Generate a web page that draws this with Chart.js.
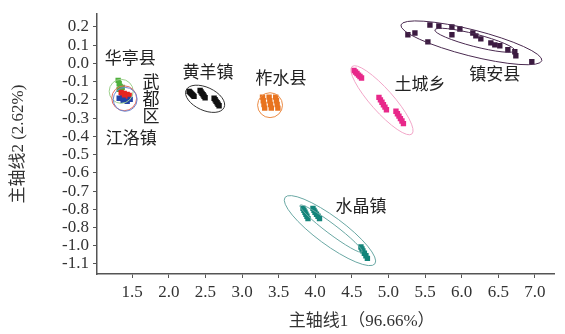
<!DOCTYPE html>
<html>
<head>
<meta charset="utf-8">
<script src="https://cdn.jsdelivr.net/npm/chart.js@4.4.0/dist/chart.umd.min.js"></script>
<style>
  body { margin: 0; background: #fff; }
  #wrap { width: 565px; height: 334px; }
</style>
</head>
<body>
<div id="wrap"><canvas id="pcaChart" width="565" height="334"></canvas></div>
<script>
// PCA scores per sampling site (主轴线1 / 主轴线2)
const huatingX = [1.309, 1.323, 1.336, 1.364, 1.323];
const huatingY = [-0.093, -0.110, -0.126, -0.132, -0.142];
const wuduX = [1.350, 1.391, 1.432, 1.364, 1.418, 1.459];
const wuduY = [-0.159, -0.164, -0.170, -0.180, -0.186, -0.175];
const jiangluoX = [1.377, 1.432, 1.473, 1.323];
const jiangluoY = [-0.202, -0.208, -0.197, -0.191];
const huangyangX = [2.278, 2.292, 2.305, 2.319, 2.332, 2.345, 2.428, 2.441, 2.455, 2.469, 2.482, 2.496, 2.619, 2.633, 2.646, 2.660, 2.673, 2.687];
const huangyangY = [-0.153, -0.159, -0.164, -0.170, -0.175, -0.181, -0.148, -0.156, -0.164, -0.172, -0.180, -0.188, -0.191, -0.199, -0.208, -0.216, -0.224, -0.232];
const zhashuiX = [3.280, 3.290, 3.300, 3.310, 3.370, 3.380, 3.390, 3.400, 3.460, 3.470, 3.480, 3.490];
const zhashuiY = [-0.185, -0.205, -0.225, -0.245, -0.185, -0.205, -0.225, -0.245, -0.185, -0.205, -0.225, -0.245];
const tuchengX = [4.529, 4.550, 4.570, 4.591, 4.611, 4.632, 4.870, 4.890, 4.911, 4.931, 4.952, 4.972, 5.102, 5.122, 5.143, 5.163, 5.184, 5.204];
const tuchengY = [-0.039, -0.047, -0.055, -0.064, -0.072, -0.080, -0.186, -0.200, -0.213, -0.227, -0.240, -0.254, -0.262, -0.276, -0.289, -0.303, -0.316, -0.330];
const zhenanX = [5.265, 5.361, 5.538, 5.566, 5.688, 5.866, 5.866, 5.975, 6.152, 6.193, 6.261, 6.398, 6.452, 6.520, 6.630, 6.725, 6.739, 6.957];
const zhenanY = [0.157, 0.167, 0.118, 0.211, 0.205, 0.157, 0.200, 0.189, 0.167, 0.151, 0.135, 0.113, 0.102, 0.097, 0.075, 0.064, 0.042, 0.010];
const shuijingX = [3.833, 3.846, 3.860, 3.873, 3.887, 3.901, 3.969, 3.983, 3.997, 4.017, 4.038, 4.058, 4.624, 4.638, 4.651, 4.671, 4.692, 4.712];
const shuijingY = [-0.795, -0.806, -0.816, -0.827, -0.838, -0.851, -0.795, -0.806, -0.816, -0.827, -0.838, -0.851, -1.007, -1.018, -1.028, -1.041, -1.055, -1.069];

// confidence ellipses: centre, end of the half major axis, minor/major ratio
const ellipseGroup = ["huating", "wudu", "jiangluo", "huangyang", "zhashui", "tucheng", "zhenan", "zhenan", "shuijing", "shuijing"];
const ellipseCX = [1.350, 1.391, 1.405, 2.496, 3.383, 4.911, 6.132, 6.179, 4.201, 4.215];
const ellipseCY = [-0.153, -0.191, -0.197, -0.194, -0.229, -0.202, 0.113, 0.127, -0.917, -0.906];
const ellipseTipX = [1.514, 1.561, 1.568, 2.755, 3.553, 5.320, 7.094, 6.725, 4.815, 4.638];
const ellipseTipY = [-0.153, -0.191, -0.197, -0.242, -0.229, -0.387, 0.015, 0.070, -1.099, -1.034];
const ellipseRatio = [1, 1, 1, 0.55, 1, 0.25, 0.18, 0.15, 0.25, 0.13];

// site names placed next to their clusters
const siteNames = ["华亭县", "武都区", "江洛镇", "黄羊镇", "柞水县", "土城乡", "镇安县", "水晶镇"];
const siteLabelX = [1.473, 1.759, 1.486, 2.537, 3.533, 5.429, 6.452, 4.624];
const siteLabelY = [0.032, -0.191, -0.409, -0.045, -0.077, -0.110, -0.055, -0.778];
const siteVertical = [false, true, false, false, false, false, false, false];

const xTicks = [1.5, 2.0, 2.5, 3.0, 3.5, 4.0, 4.5, 5.0, 5.5, 6.0, 6.5, 7.0];
const xTickLabels = ["1.5", "2.0", "2.5", "3.0", "3.5", "4.0", "4.5", "5.0", "5.5", "6.0", "6.5", "7.0"];
const yTicks = [0.2, 0.1, 0.0, -0.1, -0.2, -0.3, -0.4, -0.5, -0.6, -0.7, -0.8, -0.9, -1.0, -1.1];
const yTickLabels = ["0.2", "0.1", "0.0", "-0.1", "-0.2", "-0.3", "-0.4", "-0.5", "-0.6", "-0.7", "-0.8", "-0.8", "-1.0", "-1.1"];

const colors = {
  huating: { point: "#4fb03c", ring: "#9fd08f" },
  wudu: { point: "#e62520", ring: "#e46a5c" },
  jiangluo: { point: "#2443a6", ring: "#6a86d2" },
  huangyang: { point: "#111111", ring: "#333333" },
  zhashui: { point: "#e8731f", ring: "#eb8c46" },
  tucheng: { point: "#e8288a", ring: "#f2a6c8" },
  zhenan: { point: "#3b1a40", ring: "#4a2a50" },
  shuijing: { point: "#13847a", ring: "#6aa8a4" },
};

const serif = "'Liberation Serif', 'Noto Sans CJK SC', serif";
const cjk = "'Noto Sans CJK SC', sans-serif";

function series(name, key, xs, ys) {
  return {
    label: name,
    data: xs.map((v, i) => ({ x: v, y: ys[i] })),
    pointStyle: "rect",
    pointRadius: 3.8,
    pointHoverRadius: 3.8,
    backgroundColor: colors[key].point,
    borderColor: colors[key].point,
    borderWidth: 0,
  };
}

const ellipsePlugin = {
  id: "ellipses",
  afterDatasetsDraw(chart) {
    const { ctx, scales: { x, y } } = chart;
    ctx.save();
    ellipseCX.forEach((cx, i) => {
      const px = x.getPixelForValue(cx);
      const py = y.getPixelForValue(ellipseCY[i]);
      const tx = x.getPixelForValue(ellipseTipX[i]);
      const ty = y.getPixelForValue(ellipseTipY[i]);
      const a = Math.hypot(tx - px, ty - py);
      ctx.beginPath();
      ctx.ellipse(px, py, a, a * ellipseRatio[i], Math.atan2(ty - py, tx - px), 0, Math.PI * 2);
      ctx.strokeStyle = colors[ellipseGroup[i]].ring;
      ctx.lineWidth = 1;
      ctx.stroke();
    });
    ctx.restore();
  },
};

const labelPlugin = {
  id: "siteLabels",
  afterDraw(chart) {
    const { ctx, scales: { x, y } } = chart;
    ctx.save();
    ctx.fillStyle = "#222";
    ctx.font = "17px " + cjk;
    ctx.textAlign = "center";
    ctx.textBaseline = "middle";
    siteNames.forEach((name, i) => {
      const px = x.getPixelForValue(siteLabelX[i]);
      const py = y.getPixelForValue(siteLabelY[i]);
      if (siteVertical[i]) {
        [...name].forEach((ch, k) => ctx.fillText(ch, px, py + (k - 1) * 17));
      } else {
        ctx.fillText(name, px, py);
      }
    });
    // x axis title sits right of centre
    ctx.font = "17px " + serif;
    ctx.fillStyle = "#333";
    ctx.fillText("主轴线1（96.66%）", chart.width * 0.64, 322);
    ctx.restore();
  },
};

new Chart(document.getElementById("pcaChart"), {
  type: "scatter",
  data: {
    datasets: [
      series("江洛镇", "jiangluo", jiangluoX, jiangluoY),
      series("武都区", "wudu", wuduX, wuduY),
      series("华亭县", "huating", huatingX, huatingY),
      series("黄羊镇", "huangyang", huangyangX, huangyangY),
      series("柞水县", "zhashui", zhashuiX, zhashuiY),
      series("土城乡", "tucheng", tuchengX, tuchengY),
      series("镇安县", "zhenan", zhenanX, zhenanY),
      series("水晶镇", "shuijing", shuijingX, shuijingY),
    ],
  },
  options: {
    responsive: false,
    animation: false,
    devicePixelRatio: 1,
    layout: { padding: { top: 12, right: 11, left: 0, bottom: 0 } },
    plugins: { legend: { display: false }, tooltip: { enabled: false } },
    scales: {
      x: {
        type: "linear",
        min: 1.02,
        max: 7.26,
        afterFit: (s) => { s.height = 60; },
        afterBuildTicks: (s) => { s.ticks = xTicks.map((v) => ({ value: v })); },
        border: { color: "#555", width: 1.5 },
        grid: { drawOnChartArea: false, drawTicks: true, tickLength: 4, tickColor: "#555" },
        ticks: {
          color: "#333",
          padding: 4,
          maxRotation: 0,
          autoSkip: false,
          font: { family: serif, size: 17 },
          callback: (v) => xTickLabels[xTicks.findIndex((t) => Math.abs(t - v) < 1e-6)],
        },
      },
      y: {
        type: "linear",
        min: -1.155,
        max: 0.27,
        afterFit: (s) => { s.width = 97; },
        afterBuildTicks: (s) => { s.ticks = yTicks.map((v) => ({ value: v })); },
        border: { color: "#555", width: 1.5 },
        grid: { drawOnChartArea: false, drawTicks: true, tickLength: 4, tickColor: "#555" },
        ticks: {
          color: "#333",
          padding: 4,
          autoSkip: false,
          font: { family: serif, size: 17 },
          callback: (v) => yTickLabels[yTicks.findIndex((t) => Math.abs(t - v) < 1e-6)],
        },
        title: {
          display: true,
          text: "主轴线2 (2.62%)",
          color: "#333",
          font: { family: serif, size: 17 },
          padding: { top: 8, bottom: 0 },
        },
      },
    },
  },
  plugins: [ellipsePlugin, labelPlugin],
});
</script>
</body>
</html>
